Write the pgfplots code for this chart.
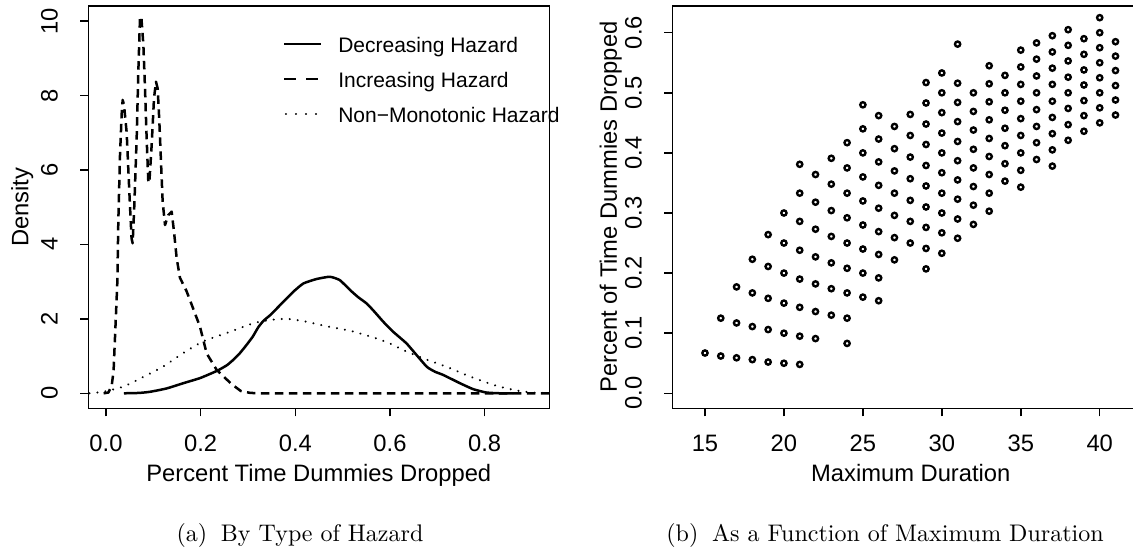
\documentclass[border=0pt]{standalone}
\usepackage{fontspec}
\usepackage{pgfplots}
\usepackage{pgfplotstable}
\pgfplotsset{compat=1.18}
\newfontfamily\arial{Liberation Sans}

\pgfplotstableread{
x y
-0.005 0.0
0.005 0.02
0.012 0.2
0.016 0.6
0.019 1.5
0.022 2.4
0.024 3.0
0.026 4.6
0.0296 6.4
0.0331 7.5
0.0352 7.88
0.038 7.75
0.0437 7.0
0.0493 5.41
0.054 4.16
0.0563 4.03
0.0599 5.06
0.0648 6.85
0.0683 8.64
0.0718 10.07
0.0746 10.12
0.079 9.35
0.0824 8.19
0.0859 6.85
0.0894 5.69
0.0915 5.65
0.0965 6.67
0.1014 7.92
0.1056 8.37
0.1092 8.19
0.1127 7.3
0.1162 6.22
0.1197 5.15
0.1247 4.52
0.1317 4.79
0.1387 4.88
0.1437 4.34
0.1493 3.63
0.1563 3.1
0.170 2.75
0.1775 2.5
0.1986 1.79
0.2127 1.07
0.2338 0.63
0.265 0.25
0.285 0.06
0.305 0.01
0.33 0.0
0.95 0.0
}\tabincr

\pgfplotstableread{
x y
0.038 0.0
0.07 0.01
0.093 0.04
0.128 0.13
0.163 0.27
0.199 0.41
0.234 0.6
0.255 0.75
0.269 0.9
0.283 1.08
0.297 1.3
0.31 1.52
0.322 1.78
0.333 1.95
0.347 2.1
0.361 2.28
0.378 2.5
0.396 2.73
0.417 2.95
0.445 3.07
0.473 3.13
0.494 3.04
0.516 2.77
0.533 2.58
0.551 2.41
0.568 2.18
0.586 1.92
0.607 1.65
0.635 1.34
0.656 1.03
0.678 0.71
0.695 0.58
0.713 0.49
0.748 0.27
0.776 0.11
0.804 0.02
0.833 0.0
0.86 0.0
}\tabdecr

\pgfplotstableread{
x y
-0.035 0.0
-0.006 0.04
0.037 0.18
0.079 0.44
0.121 0.72
0.163 1.08
0.206 1.4
0.255 1.62
0.311 1.88
0.347 1.97
0.382 2.0
0.417 1.94
0.466 1.8
0.516 1.68
0.565 1.5
0.6 1.34
0.628 1.16
0.67 0.94
0.72 0.71
0.769 0.45
0.825 0.2
0.87 0.07
0.9 0.02
0.94 0.0
}\tabnonmono

\pgfplotstableread{
x y
15 0.067
16 0.125
16 0.062
17 0.177
17 0.117
17 0.059
18 0.223
18 0.167
18 0.111
18 0.056
19 0.264
19 0.211
19 0.158
19 0.106
19 0.052
20 0.300
20 0.250
20 0.200
20 0.150
20 0.100
20 0.050
21 0.381
21 0.333
21 0.286
21 0.238
21 0.190
21 0.143
21 0.095
21 0.048
22 0.364
22 0.318
22 0.273
22 0.227
22 0.182
22 0.136
22 0.091
23 0.391
23 0.348
23 0.304
23 0.261
23 0.217
23 0.174
23 0.130
24 0.417
24 0.375
24 0.333
24 0.292
24 0.250
24 0.208
24 0.167
24 0.125
24 0.083
25 0.480
25 0.440
25 0.400
25 0.360
25 0.320
25 0.280
25 0.240
25 0.200
25 0.160
26 0.462
26 0.423
26 0.385
26 0.346
26 0.308
26 0.269
26 0.231
26 0.192
26 0.154
27 0.444
27 0.407
27 0.370
27 0.333
27 0.296
27 0.259
27 0.222
28 0.464
28 0.429
28 0.393
28 0.357
28 0.321
28 0.286
28 0.250
29 0.517
29 0.483
29 0.448
29 0.414
29 0.379
29 0.345
29 0.310
29 0.276
29 0.241
29 0.207
30 0.533
30 0.500
30 0.467
30 0.433
30 0.400
30 0.367
30 0.333
30 0.300
30 0.267
30 0.233
31 0.581
31 0.516
31 0.484
31 0.452
31 0.419
31 0.387
31 0.355
31 0.323
31 0.290
31 0.258
32 0.500
32 0.469
32 0.438
32 0.406
32 0.375
32 0.344
32 0.313
32 0.281
33 0.545
33 0.515
33 0.485
33 0.455
33 0.424
33 0.394
33 0.364
33 0.333
33 0.303
34 0.529
34 0.500
34 0.471
34 0.441
34 0.412
34 0.382
34 0.353
35 0.571
35 0.543
35 0.514
35 0.486
35 0.457
35 0.429
35 0.400
35 0.371
35 0.343
36 0.583
36 0.556
36 0.528
36 0.500
36 0.472
36 0.444
36 0.417
36 0.389
37 0.595
37 0.568
37 0.541
37 0.514
37 0.486
37 0.459
37 0.432
37 0.405
37 0.378
38 0.605
38 0.579
38 0.553
38 0.526
38 0.500
38 0.474
38 0.447
38 0.421
39 0.590
39 0.564
39 0.538
39 0.513
39 0.487
39 0.462
39 0.436
40 0.625
40 0.600
40 0.575
40 0.550
40 0.525
40 0.500
40 0.475
40 0.450
41 0.585
41 0.561
41 0.537
41 0.512
41 0.488
41 0.463
}\tabscat

\pgfplotsset{
  rstyle/.style={
    scale only axis,
    height=160.92pt,
    anchor=south west,
    axis line style={line width=0.6pt},
    tick align=outside,
    tick pos=left,
    major tick length=3.2pt,
    tick style={line width=0.6pt, black},
    /pgf/number format/assume math mode=true,
    every tick label/.append style={font=\arial\fontsize{9.5}{11}\selectfont},
    xticklabel style={anchor=base, inner sep=0pt, yshift=-14pt},
    yticklabel style={xshift=-9.1pt, rotate=90, anchor=base, inner sep=0pt},
    every axis x label/.style={at={(rel axis cs:0.5,0)}, anchor=base, yshift=-29.1pt, font=\arial\fontsize{9.5}{11}\selectfont},
    clip=true,
  }
}

\begin{document}
\begin{tikzpicture}
\useasboundingbox (0,0) rectangle (453.2pt,220pt);
\clip (0,0) rectangle (453.2pt,220pt);

\begin{axis}[rstyle,
  at={(35.32pt,56.68pt)},
  width=184.4pt,
  xmin=-0.0374, xmax=0.9366, ymin=-0.403, ymax=10.403,
  xtick={0,0.2,0.4,0.6,0.8},
  xticklabels={0.0,0.2,0.4,0.6,0.8},
  ytick={0,2,4,6,8,10},
  xlabel={Percent Time Dummies Dropped},
  ylabel={Density},
  every axis y label/.style={at={(rel axis cs:0,0.5)}, xshift=-24pt, rotate=90, anchor=base, font=\arial\fontsize{9.5}{11}\selectfont},
  legend style={at={(rel axis cs:0.423,0.9212)}, anchor=north west, draw=none, fill=none,
    inner sep=0pt, outer sep=0pt, row sep=6.2pt, column sep=6.4pt,
    font=\arial\fontsize{8.4}{10}\selectfont,
    nodes={inner sep=0pt, text height=6pt, text depth=1.8pt}},
  legend cell align=left,
  legend image code/.code={\draw[#1] (0pt,1.3pt) -- (14.7pt,1.3pt);},
]
\addlegendimage{black, line width=0.9pt}
\addlegendentry{Decreasing Hazard}
\addlegendimage{black, line width=0.9pt, dash pattern=on 4.7pt off 4pt}
\addlegendentry{Increasing Hazard}
\addlegendimage{black, line width=0.9pt, line cap=round, dash pattern=on 0.01pt off 4pt, dash phase=-0.6pt}
\addlegendentry{Non−Monotonic Hazard}

\addplot[black, line width=1pt, line join=round, smooth, tension=0.3, forget plot] table[x=x,y=y] {\tabdecr};
\addplot[black, line width=1pt, line join=round, dash pattern=on 3.4pt off 2.2pt, forget plot] table[x=x,y=y] {\tabincr};
\addplot[black, line width=0.9pt, line cap=round, dash pattern=on 0.01pt off 3.2pt, smooth, tension=0.3, forget plot] table[x=x,y=y] {\tabnonmono};
\end{axis}

\begin{axis}[rstyle,
  at={(268.92pt,56.68pt)},
  width=190.8pt,
  xmin=12.93, xmax=43.14, ymin=-0.025, ymax=0.6444,
  xtick={15,20,25,30,35,40},
  ytick={0,0.1,0.2,0.3,0.4,0.5,0.6},
  yticklabels={0.0,0.1,0.2,0.3,0.4,0.5,0.6},
  xlabel={Maximum Duration},
  ylabel={Percent of Time Dummies Dropped},
  every axis y label/.style={at={(rel axis cs:0,0.5)}, xshift=-22.2pt, rotate=90, anchor=base, font=\arial\fontsize{9.5}{11}\selectfont},
]
\addplot[only marks, mark=o, mark size=1.05pt, mark options={line width=0.95pt, black}] table[x=x,y=y] {\tabscat};
\end{axis}

\node[anchor=base, font=\fontsize{9.6}{11.5}\selectfont] at (120pt,3.32pt) {(a)\hspace{5.5pt}By Type of Hazard};
\node[anchor=base, font=\fontsize{9.6}{11.5}\selectfont] at (354pt,3.32pt) {(b)\hspace{5.5pt}As a Function of Maximum Duration};
\end{tikzpicture}
\end{document}
